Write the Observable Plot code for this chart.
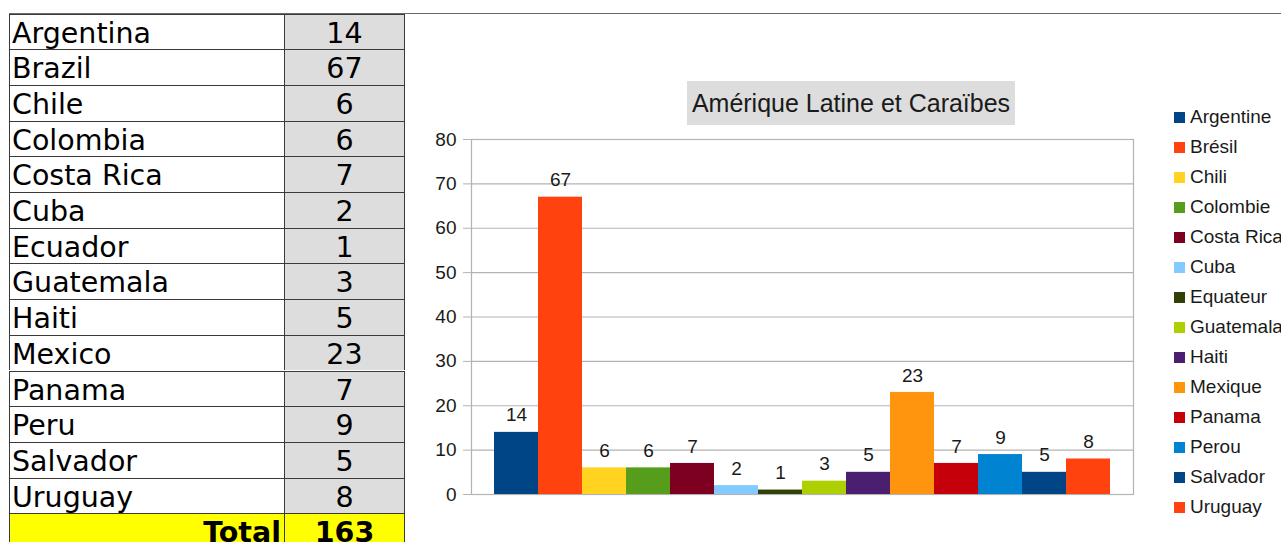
<!DOCTYPE html>
<html>
<head>
<meta charset="utf-8">
<script src="https://cdn.jsdelivr.net/npm/d3@7"></script>
<script src="https://cdn.jsdelivr.net/npm/@observablehq/plot@0.6"></script>
<style>
  html, body { margin: 0; padding: 0; background: #fff; overflow: hidden; }
  #root { position: relative; width: 1281px; height: 542px; overflow: hidden; }
  #chart { position: absolute; left: 0; top: 0; }
  .row { position: absolute; left: 9px; width: 396px; height: 35.7px; display: flex; }
  .c1, .c2 { box-sizing: border-box; height: 35.7px; border-top: 1px solid #3a3a3a; border-left: 1px solid #3a3a3a;
    font-family: "DejaVu Sans", Verdana, sans-serif; font-size: 28.5px; line-height: 34px; padding-top: 2px; color: #000; white-space: nowrap; overflow: visible; }
  .c1 { width: 275px; padding-left: 2px; }
  .c2 { width: 121px; background: #dddddd; text-align: center; border-right: 1px solid #3a3a3a; }
  .total .c1, .total .c2 { background: #ffff00; font-weight: bold; }
  .total .c1 { text-align: right; padding-right: 3px; }
  #topline { position: absolute; left: 9px; top: 13px; width: 1272px; height: 1px; background: #6a6a6a; }
  #title { position: absolute; left: 687px; top: 81px; width: 328px; height: 44px; background: #dddddd;
    font-family: "Liberation Sans", Arial, sans-serif; font-size: 25px; line-height: 44px; text-align: center; color: #1a1a1a; white-space: nowrap; }
  #legend { position: absolute; left: 1174px; top: 0; }
  .lg { position: absolute; left: 0; height: 30px; white-space: nowrap; font-family: "Liberation Sans", Arial, sans-serif; font-size: 19px; color: #1a1a1a; }
  .sw { position: absolute; left: 0; width: 11px; height: 11px; }
  .lt { position: absolute; left: 16px; line-height: 22px; }
</style>
</head>
<body>
<div id="root">
  <div id="chart"></div>
  <div id="topline"></div>
  <div id="table"></div>
  <div id="title">Amérique Latine et Caraïbes</div>
  <div id="legend"></div>
</div>
<script>
// ---- data ----
const tableNames = ["Argentina","Brazil","Chile","Colombia","Costa Rica","Cuba","Ecuador","Guatemala","Haiti","Mexico","Panama","Peru","Salvador","Uruguay"];
const legendNames = ["Argentine","Brésil","Chili","Colombie","Costa Rica","Cuba","Equateur","Guatemala","Haiti","Mexique","Panama","Perou","Salvador","Uruguay"];
const values = [14, 67, 6, 6, 7, 2, 1, 3, 5, 23, 7, 9, 5, 8];
const totalLabel = "Total";
const totalValue = 163;
const colors = ["#004586","#ff420e","#ffd320","#579d1c","#7e0021","#83caff","#314004","#aecf00","#4b1f6f","#ff950e","#c5000b","#0084d1","#004586","#ff420e"];
const yTicks = [0, 10, 20, 30, 40, 50, 60, 70, 80];
const chartTitle = "Amérique Latine et Caraïbes";

// ---- table ----
const table = document.getElementById("table");
const rowH = 35.7, top0 = 13.5;
tableNames.forEach((n, i) => {
  const r = document.createElement("div");
  r.className = "row";
  r.style.top = (top0 + i * rowH) + "px";
  r.innerHTML = `<div class="c1"></div><div class="c2"></div>`;
  r.children[0].textContent = n;
  r.children[1].textContent = values[i];
  table.appendChild(r);
});
{
  const r = document.createElement("div");
  r.className = "row total";
  r.style.top = (top0 + tableNames.length * rowH) + "px";
  r.innerHTML = `<div class="c1"></div><div class="c2"></div>`;
  r.children[0].textContent = totalLabel;
  r.children[1].textContent = totalValue;
  table.appendChild(r);
}

// ---- chart ----
document.getElementById("title").textContent = chartTitle;
const data = legendNames.map((name, i) => ({name, value: values[i]}));

const chart = Plot.plot({
  width: 1281,
  height: 542,
  marginLeft: 471,
  marginRight: 148,
  marginTop: 139,
  marginBottom: 48,
  style: {fontFamily: "'Liberation Sans', Arial, sans-serif", color: "#1a1a1a", background: "transparent"},
  x: {domain: legendNames, paddingInner: 0, paddingOuter: 0.5, axis: null},
  y: {domain: [0, 80]},
  color: {domain: legendNames.map((d, i) => i), range: colors},
  marks: [
    Plot.ruleY(yTicks, {stroke: "#b3b3b3", strokeWidth: 1.2}),
    Plot.frame({stroke: "#b3b3b3", strokeWidth: 1.2}),
    Plot.axisY({ticks: yTicks, tickSize: 8, tickPadding: 7, stroke: "#b3b3b3", fill: "#1a1a1a", fontSize: 19, label: null, tickFormat: d => String(d)}),
    Plot.barY(data, {x: "name", y: "value", fill: (d, i) => i}),
    Plot.text(data, {x: "name", y: "value", text: d => String(d.value), dy: -17, fontSize: 19, fill: "#1a1a1a"})
  ]
});
document.getElementById("chart").appendChild(chart);

// ---- legend ----
const legend = document.getElementById("legend");
legendNames.forEach((n, i) => {
  const it = document.createElement("div");
  it.className = "lg";
  it.style.top = (106 + i * 30) + "px";
  it.innerHTML = `<div class="sw" style="top:6px;background:${colors[i]}"></div><div class="lt"></div>`;
  it.children[1].textContent = n;
  legend.appendChild(it);
});
</script>
</body>
</html>
